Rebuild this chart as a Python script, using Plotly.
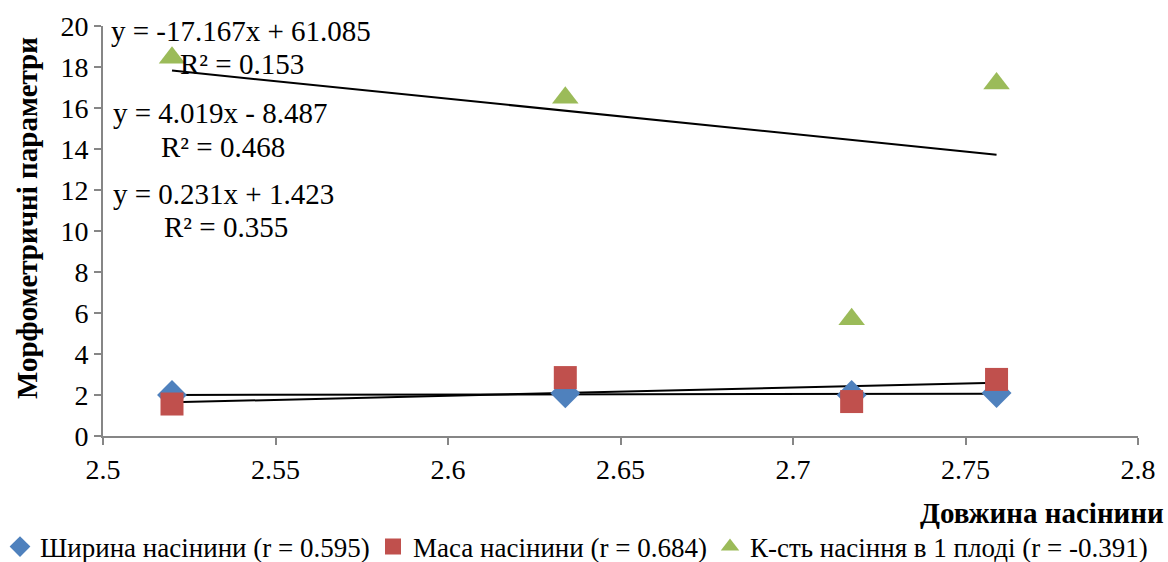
import plotly.graph_objects as go

# Data
x_len = [2.52, 2.634, 2.717, 2.759]
width_vals = [2.0, 2.08, 2.0, 2.1]
mass_vals = [1.56, 2.85, 1.68, 2.76]
count_vals = [18.45, 16.5, 5.7, 17.2]

series_names = ["Ширина насінини (r = 0.595)", "Маса насінини (r = 0.684)", "К-сть насіння в 1 плоді (r = -0.391)"]
series_colors = ["#4F81BD", "#C0504D", "#9BBB59"]
series_symbols = ["diamond", "square", "triangle-up"]

# trend line coefficients (slope, intercept) as shown on chart
trend_slopes = [0.231, 4.019, -17.167]
trend_intercepts = [1.423, -8.487, 61.085]
trend_eq = ["y = 0.231x + 1.423", "y = 4.019x - 8.487", "y = -17.167x + 61.085"]
trend_r2 = ["R² = 0.355", "R² = 0.468", "R² = 0.153"]

x_ticks = [2.5, 2.55, 2.6, 2.65, 2.7, 2.75, 2.8]
y_ticks = list(range(0, 21, 2))

FONT = "Liberation Serif, Times New Roman, serif"
W, H = 1168, 562
fig = go.Figure()

all_y = [width_vals, mass_vals, count_vals]
x0, x1 = min(x_len), max(x_len)
for i in range(3):
    fig.add_trace(go.Scatter(
        x=[x0, x1],
        y=[trend_slopes[i] * x0 + trend_intercepts[i], trend_slopes[i] * x1 + trend_intercepts[i]],
        mode="lines", line=dict(color="black", width=2), showlegend=False, hoverinfo="skip"))

legend_ids = ["legend", "legend2", "legend3"]
for i in range(3):
    fig.add_trace(go.Scatter(
        x=x_len, y=all_y[i], mode="markers", name=series_names[i], legend=legend_ids[i],
        marker=dict(symbol=series_symbols[i], color=series_colors[i], size=23,
                    line=dict(width=0))))

ann_pos = [  # (left px, center y px) for equation and R² lines
    [(111, 194), (162, 227)],
    [(111, 113), (159, 147)],
    [(109, 31), (178, 64)],
]
L, R, T, B = 103, 1138, 26, 436
for i in range(3):
    for txt, (px, py) in zip([trend_eq[i], trend_r2[i]], ann_pos[i]):
        fig.add_annotation(
            x=(px - L) / (R - L), y=(B - py) / (B - T), xref="paper", yref="paper",
            text=txt, showarrow=False, xanchor="left", yanchor="middle",
            font=dict(family=FONT, size=29, color="black"))

fig.add_annotation(x=(27 - L) / (R - L), y=(B - 218) / (B - T), xref="paper", yref="paper",
                   text="<b>Морфометричні параметри</b>", textangle=-90, showarrow=False,
                   xanchor="center", yanchor="middle", font=dict(family=FONT, size=29, color="black"))
fig.add_annotation(x=(1166 - L) / (R - L), y=(B - 513) / (B - T), xref="paper", yref="paper",
                   text="<b>Довжина насінини</b>", showarrow=False,
                   xanchor="right", yanchor="middle", font=dict(family=FONT, size=29, color="black"))

legend_x_px = [-4, 373, 710]


def legend_cfg(px):
    return dict(orientation="h", xref="container", x=px / W, xanchor="left",
                yref="container", y=(H - 547) / H, yanchor="middle",
                font=dict(family=FONT, size=27, color="black"),
                itemwidth=30, bgcolor="rgba(0,0,0,0)")


fig.update_layout(
    width=W, height=H,
    margin=dict(l=L, r=W - R, t=T, b=H - B, autoexpand=False),
    paper_bgcolor="white", plot_bgcolor="white",
    font=dict(family=FONT, size=28, color="black"),
    showlegend=True,
    legend=legend_cfg(legend_x_px[0]),
    legend2=legend_cfg(legend_x_px[1]),
    legend3=legend_cfg(legend_x_px[2]),
    xaxis=dict(range=[2.5, 2.8], tickvals=x_ticks, ticktext=[str(v) for v in x_ticks],
               showgrid=False, zeroline=False, showline=True, linecolor="#868686", linewidth=2,
               ticks="outside", ticklen=7, tickcolor="#868686", tickwidth=2,
               tickfont=dict(family=FONT, size=28, color="black")),
    yaxis=dict(range=[0, 20], tickvals=y_ticks, showgrid=False, zeroline=False,
               showline=True, linecolor="#868686", linewidth=2,
               ticks="outside", ticklen=7, tickcolor="#868686", tickwidth=2,
               tickfont=dict(family=FONT, size=28, color="black")),
)

fig.write_html("out.html")
